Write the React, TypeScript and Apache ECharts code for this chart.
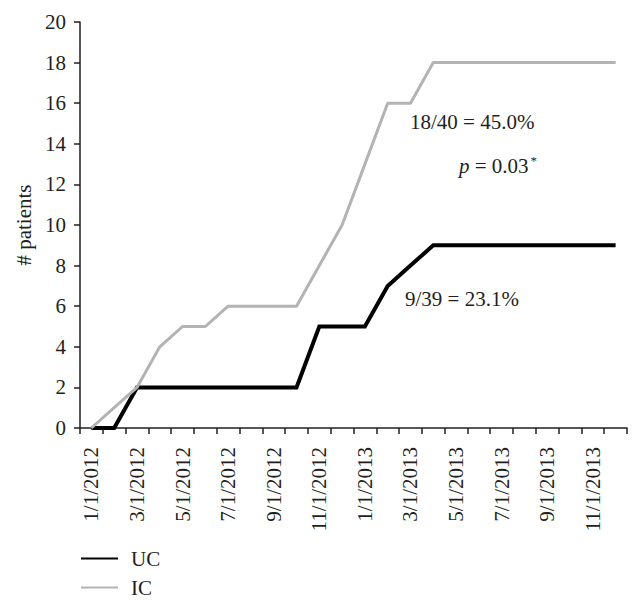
import React, { useEffect, useRef } from "react";
import * as echarts from "echarts";

const months = [
  "1/1/2012", "2/1/2012", "3/1/2012", "4/1/2012", "5/1/2012", "6/1/2012",
  "7/1/2012", "8/1/2012", "9/1/2012", "10/1/2012", "11/1/2012", "12/1/2012",
  "1/1/2013", "2/1/2013", "3/1/2013", "4/1/2013", "5/1/2013", "6/1/2013",
  "7/1/2013", "8/1/2013", "9/1/2013", "10/1/2013", "11/1/2013", "12/1/2013",
];
const ucValues = [0, 0, 2, 2, 2, 2, 2, 2, 2, 2, 5, 5, 5, 7, 8, 9, 9, 9, 9, 9, 9, 9, 9, 9];
const icValues = [0, 1, 2, 4, 5, 5, 6, 6, 6, 6, 8, 10, 13, 16, 16, 18, 18, 18, 18, 18, 18, 18, 18, 18];
const seriesNames = ["UC", "IC"];
const annotations = ["18/40 = 45.0%", "9/39 = 23.1%"];

const FONT = "Liberation Serif";
const TXT = "#231f20";
const GRAY = "#b3b3b3";

export default function App() {
  const ref = useRef<HTMLDivElement>(null);
  useEffect(() => {
    if (!ref.current) return;
    const chart = echarts.init(ref.current, null, { renderer: "svg" });
    const legendBase = {
      orient: "vertical",
      left: 80,
      padding: 0,
      itemWidth: 37,
      itemHeight: 14,
      itemStyle: { opacity: 0 },
      textStyle: { fontSize: 21, fontFamily: FONT, color: TXT, padding: [0, 0, 0, 8] },
    };
    chart.setOption({
      animation: false,
      backgroundColor: "#fff",
      textStyle: { fontFamily: FONT, color: TXT },
      grid: { left: 80, right: 12, top: 22, bottom: 179 },
      xAxis: {
        type: "category",
        data: months,
        boundaryGap: true,
        axisLine: { lineStyle: { color: TXT, width: 1.5 } },
        axisTick: { show: true, interval: 0, length: 6, lineStyle: { color: TXT, width: 1.5 } },
        axisLabel: {
          interval: 1,
          rotate: 90,
          margin: 19,
          fontSize: 21,
          fontFamily: FONT,
          color: TXT,
          padding: [0, 0, 8, 0],
        },
        splitLine: { show: false },
      },
      yAxis: {
        type: "value",
        min: 0,
        max: 20,
        interval: 2,
        name: "# patients",
        nameLocation: "middle",
        nameGap: 46,
        nameTextStyle: { fontSize: 21, fontFamily: FONT, color: TXT },
        axisLine: { show: true, lineStyle: { color: TXT, width: 1.5 } },
        axisTick: { show: true, length: 6, lineStyle: { color: TXT, width: 1.5 } },
        axisLabel: { margin: 14, fontSize: 21, fontFamily: FONT, color: TXT },
        splitLine: { show: false },
      },
      legend: [
        {
          ...legendBase,
          top: 548,
          data: [{ name: seriesNames[0], lineStyle: { width: 2 } }],
        },
        {
          ...legendBase,
          top: 577,
          data: [{ name: seriesNames[1], lineStyle: { width: 2 } }],
        },
      ],
      series: [
        {
          name: seriesNames[0],
          type: "line",
          data: ucValues,
          symbol: "none",
          lineStyle: { color: "#000", width: 4, join: "miter" },
          itemStyle: { color: "#000" },
        },
        {
          name: seriesNames[1],
          type: "line",
          data: icValues,
          symbol: "none",
          lineStyle: { color: GRAY, width: 3 },
          itemStyle: { color: GRAY },
        },
      ],
      graphic: [
        {
          type: "text",
          left: 410,
          top: 111,
          style: { text: annotations[0], fontSize: 21, fontFamily: FONT, fill: TXT },
        },
        {
          type: "text",
          left: 459,
          top: 154,
          style: {
            text: "{i|p} = 0.03{s|*}",
            fontSize: 21,
            fontFamily: FONT,
            fill: TXT,
            rich: {
              i: { fontStyle: "italic", fontSize: 21, fontFamily: FONT, fill: TXT },
              s: { fontSize: 13, fontFamily: FONT, fill: TXT, verticalAlign: "top", padding: [0, 0, 10, 2] },
            },
          },
        },
        {
          type: "text",
          left: 405,
          top: 288,
          style: { text: annotations[1], fontSize: 21, fontFamily: FONT, fill: TXT },
        },
      ],
    });
    return () => chart.dispose();
  }, []);
  return (
    <div
      ref={ref}
      style={{ position: "fixed", left: 0, top: 0, width: 639, height: 607 }}
    />
  );
}
